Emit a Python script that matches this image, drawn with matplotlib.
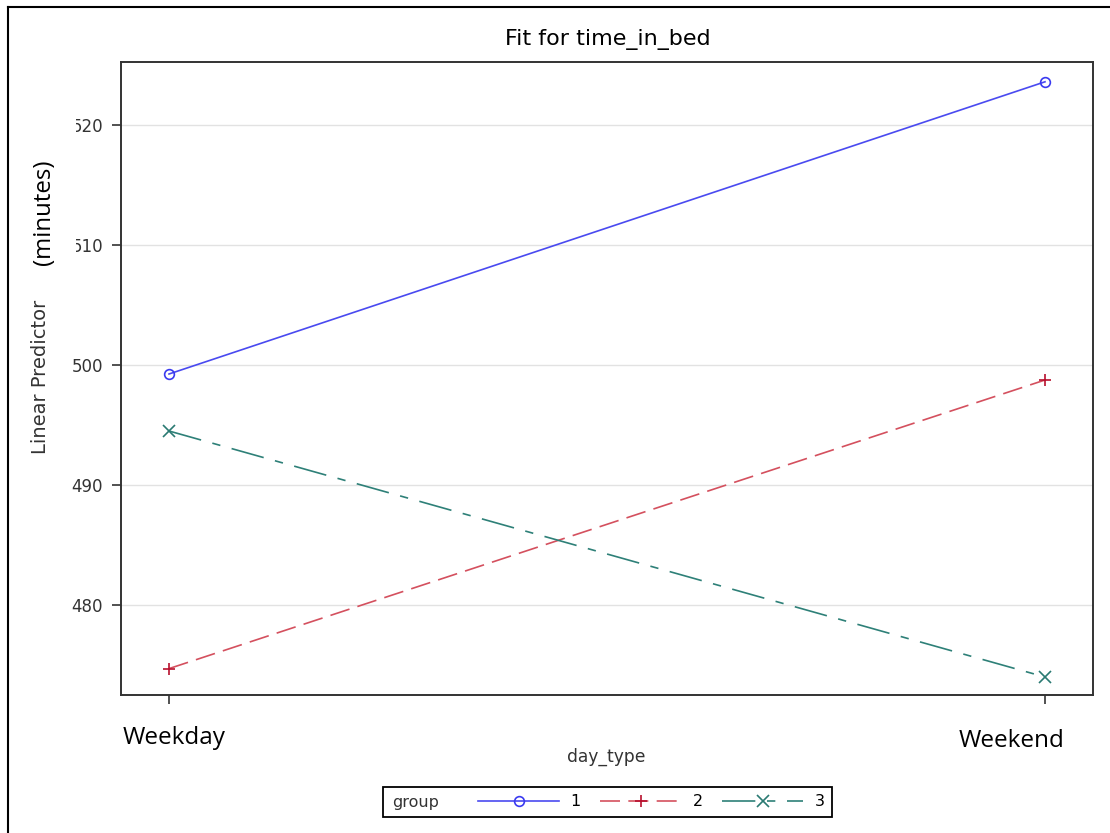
import matplotlib
matplotlib.use("Agg")
import matplotlib.pyplot as plt
from matplotlib.lines import Line2D
from matplotlib.patches import Rectangle

# ---- data ----
categories = ["Weekday", "Weekend"]
groups = ["1", "2", "3"]
g1 = [499.25, 523.6]
g2 = [474.7, 498.75]
g3 = [494.5, 474.0]
yticks = [480, 490, 500, 510, 520]

W, H = 1110, 833
fig = plt.figure(figsize=(W / 100, H / 100), dpi=100)
ax = fig.add_axes([121 / W, 1 - 695 / H, (1093 - 121) / W, (695 - 62) / H])

SAS = "DejaVu Sans"
x = list(range(len(categories)))
styles = [
    dict(color="#4a4af0", marker="o", mfc="none", mec="#3a3af0", ms=7, mew=1.2,
         linestyle="-"),
    dict(color="#d4505e", marker="+", mfc="none", mec="#b8102e", ms=9, mew=1.2,
         linestyle=(0, (12, 5))),
    dict(color="#2e8078", marker="x", mfc="none", mec="#2a7a72", ms=8, mew=1.2,
         linestyle=(0, (20, 7, 5, 7))),
]
handles = []
for vals, st in zip([g1, g2, g3], styles):
    ln, = ax.plot(x, vals, lw=1.2, **st)
    handles.append(ln)

ax.set_xlim(-0.0548, 1.0548)
ax.set_ylim(472.5, 525.25)
ax.set_yticks(yticks)
ax.set_yticklabels([str(v) for v in yticks], fontsize=12, color="#333333",
                   family=SAS)
ax.set_xticks(x)
ax.set_xticklabels([])
ax.tick_params(axis="both", length=6.5, width=1.2, color="#333333")
ax.tick_params(axis="y", pad=6.5)
ax.grid(axis="y", color="#e2e2e2", lw=1)
ax.set_axisbelow(True)
for sp in ax.spines.values():
    sp.set_color("#333333")
    sp.set_linewidth(1.4)

# tick labels overlaid in larger font
fig.text(174.5 / W, 1 - 738 / H, categories[0], ha="center", va="center",
         fontsize=17.5, family="Open Sans")
fig.text(1011.5 / W, 1 - 741 / H, categories[1], ha="center", va="center",
         fontsize=17.5, family="Open Sans")

fig.text(608 / W, 1 - 40 / H, "Fit for time_in_bed", ha="center", va="center",
         fontsize=16, family=SAS)
fig.text(606 / W, 1 - 757 / H, "day_type", ha="center", va="center",
         fontsize=12.3, family=SAS, color="#333333")
fig.text(41 / W, 1 - 377 / H, "Linear Predictor", ha="center", va="center",
         rotation=90, fontsize=14, family=SAS, color="#333333")

# white text box pasted over the left of the axis (covers part of tick labels)
fig.add_artist(Rectangle((20 / W, 1 - 275 / H), (76 - 20) / W, (275 - 112) / H,
                         transform=fig.transFigure, facecolor="white",
                         edgecolor="none", zorder=2))
fig.text(44 / W, 1 - 212.5 / H, "(minutes)", ha="center", va="center",
         rotation=90, fontsize=17.3, family="Open Sans", zorder=3)

# outer frame lines
fig.add_artist(Line2D([8 / W, 8 / W], [0, 1 - 7 / H], color="black", lw=1.5,
                      transform=fig.transFigure))
fig.add_artist(Line2D([8 / W, 1], [1 - 7 / H, 1 - 7 / H], color="black", lw=1.5,
                      transform=fig.transFigure))

# legend
fig.add_artist(Rectangle((383 / W, 1 - 817 / H), (832 - 383) / W, 30 / H,
                         transform=fig.transFigure, fill=False,
                         edgecolor="black", lw=1.3))
fig.text(392 / W, 1 - 803 / H, "group", ha="left", va="center", fontsize=11.5,
         family=SAS, color="#333333")
leg = fig.legend(handles, groups, loc="center left",
                 bbox_to_anchor=(478 / W, 1 - 802 / H), ncol=3, frameon=False,
                 handlelength=5.1, handletextpad=0.7, columnspacing=1.2,
                 prop=dict(family=SAS, size=11.5), borderpad=0,
                 borderaxespad=0)

fig.savefig("out.png", dpi=100, facecolor="white")
